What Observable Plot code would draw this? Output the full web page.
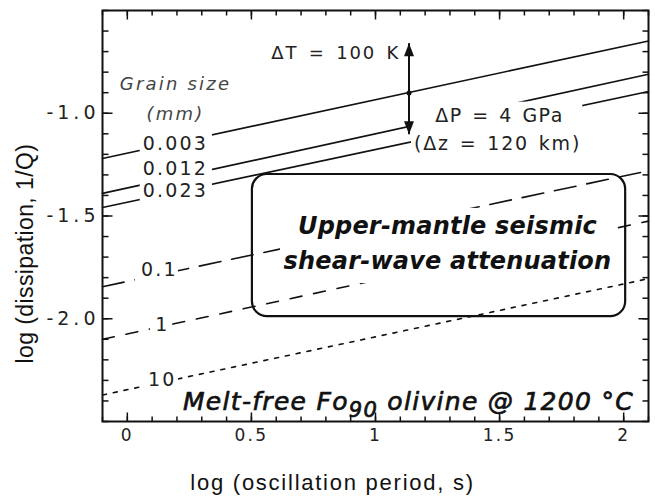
<!DOCTYPE html>
<html><head><meta charset="utf-8">
<script src="https://cdn.jsdelivr.net/npm/d3@7"></script>
<script src="https://cdn.jsdelivr.net/npm/@observablehq/plot@0.6"></script>
<style>
body{margin:0;background:#fff;}
#chart svg{display:block;}
</style></head><body><div id="chart"></div>
<script>
// Grain-size curves: log dissipation at both ends of the period axis
const grainSizes = ["0.003","0.012","0.023","0.1","1","10"];
const periodStart = -0.1, periodEnd = 2.1;
const dissAtStart = [-1.22,-1.39,-1.459,-1.844,-2.10,-2.371];
const dissAtEnd   = [-0.648,-0.81,-0.894,-1.28,-1.525,-1.805];
// Where each grain-size label sits
const labelX = [0.194,0.194,0.194,0.129,0.141,0.141];
const labelY = [-1.151,-1.273,-1.380,-1.761,-2.029,-2.298];
// tick values
const xTicks = [0,0.5,1,1.5,2];
const yTicks = [-2.0,-1.5,-1.0];
const xMinor = d3.range(-1,22).map(i=>i/10);
const yMinor = d3.range(-25,-4).map(i=>i/10);
// Arrow (ΔT / ΔP) annotation
const arrowX = [1.135];
const arrowTop = [-0.659];
const arrowBottom = [-1.102];
const arrowMid = [-0.902];
// Attenuation box
const boxX = [0.504, 2.008];
const boxY = [-1.99, -1.298];
// White backgrounds behind annotation text
const maskX1 = [0.052,0.032,0.093,0.065,1.145,0.617];
const maskX2 = [0.343,0.206,0.181,0.206,1.835,1.972];
const maskY1 = [-1.102,-1.712,-1.976,-2.249,-0.946,-1.463];
const maskY2 = [-1.429,-1.844,-2.093,-2.366,-1.21,-1.829];

const dashes = {"0.1":"22,11","1":"12,12","10":"4,7"};
const ink = "#111";
const W = 655, H = 496, mL = 102, mR = 7, mT = 10, mB = 75;
const xDom = [-0.1, 2.1], yDom = [-2.5, -0.5];
const fw = W - mL - mR, fh = H - mT - mB;
const px2x = (xDom[1]-xDom[0])/fw, px2y = (yDom[1]-yDom[0])/fh;

const lineMarks = grainSizes.map((g,i)=>Plot.line(
  [{x:periodStart,y:dissAtStart[i]},{x:periodEnd,y:dissAtEnd[i]}],
  {x:"x",y:"y",stroke:ink,strokeWidth:1.6,strokeDasharray:dashes[g]||null}));

const masks = maskX1.map((d,i)=>({x1:d,x2:maskX2[i],y1:maskY1[i],y2:maskY2[i]}));
const labels = grainSizes.map((g,i)=>({t:g,x:labelX[i],y:labelY[i]}));

const headUp = {draw(ctx){ctx.moveTo(0,0);ctx.lineTo(5,13);ctx.lineTo(-5,13);ctx.closePath();}};
const headDown = {draw(ctx){ctx.moveTo(0,0);ctx.lineTo(5,-13);ctx.lineTo(-5,-13);ctx.closePath();}};

// inward tick segments (lengths in pixels converted to data units)
const tickRows = [];
for (const [vals,len] of [[xMinor,5],[xTicks,9]]) for (const v of vals) {
  tickRows.push({x1:v,x2:v,y1:yDom[0],y2:yDom[0]+len*px2y});
  tickRows.push({x1:v,x2:v,y1:yDom[1],y2:yDom[1]-len*px2y});
}
for (const [vals,len] of [[yMinor,6],[yTicks,10]]) for (const v of vals) {
  tickRows.push({x1:xDom[0],x2:xDom[0]+len*px2x,y1:v,y2:v});
  tickRows.push({x1:xDom[1],x2:xDom[1]-len*px2x,y1:v,y2:v});
}

const captionText = "Melt-free Fo90 olivine @ 1200 \u00B0C";

const plot = Plot.plot({
  width:W, height:H,
  marginLeft:mL, marginRight:mR, marginTop:mT, marginBottom:mB,
  x:{domain:xDom, axis:null},
  y:{domain:yDom, axis:null},
  style:{fontFamily:"DejaVu Sans", color:ink, background:"white"},
  marks:[
    ...lineMarks,
    Plot.rect(masks,{x1:"x1",x2:"x2",y1:"y1",y2:"y2",fill:"white"}),
    Plot.rect([{}],{x1:boxX[0],x2:boxX[1],y1:boxY[0],y2:boxY[1],fill:"none",stroke:ink,strokeWidth:2.2,rx:15}),
    Plot.link(tickRows,{x1:"x1",x2:"x2",y1:"y1",y2:"y2",stroke:ink,strokeWidth:1.5}),
    Plot.axisX({ticks:xTicks,anchor:"bottom",tickSize:0,tickPadding:7,fontSize:17,fill:"#222",tickFormat:d=>String(d)}),
    Plot.axisY({ticks:yTicks,anchor:"left",tickSize:0,tickPadding:3,fontSize:19,fill:"#222",tickFormat:d=>d.toFixed(1)}),
    Plot.frame({stroke:ink,strokeWidth:2}),
    // axis titles
    Plot.text(["log (dissipation, 1/Q)"],{x:-0.41,y:-1.683,rotate:-90,fontFamily:"Liberation Sans",fontSize:23,fill:ink}),
    Plot.text(["log (oscillation period, s)"],{x:0.827,y:-2.80,fontFamily:"Liberation Sans",fontSize:22,fill:ink}),
    // grain labels
    Plot.text(labels,{x:"x",y:"y",text:"t",fontSize:19,fill:"#222"}),
    Plot.text(["Grain size"],{x:0.194,y:-0.859,fontSize:18,fontStyle:"italic",fill:"#444"}),
    Plot.text(["(mm)"],{x:0.194,y:-1.005,fontSize:18,fontStyle:"italic",fill:"#444"}),
    // ΔT / ΔP annotation
    Plot.text(["ΔT = 100 K"],{x:1.099,y:-0.707,textAnchor:"end",fontSize:18,fill:"#222"}),
    Plot.text(["ΔP = 4 GPa"],{x:1.5,y:-1.015,fontSize:19,fill:"#222"}),
    Plot.text(["(Δz = 120 km)"],{x:1.492,y:-1.151,fontSize:19,fill:"#222"}),
    Plot.link([0],{x1:()=>arrowX[0],x2:()=>arrowX[0],y1:()=>arrowTop[0],y2:()=>arrowBottom[0],stroke:ink,strokeWidth:2}),
    Plot.dot([0],{x:()=>arrowX[0],y:()=>arrowTop[0],symbol:headUp,fill:ink,stroke:"none"}),
    Plot.dot([0],{x:()=>arrowX[0],y:()=>arrowBottom[0],symbol:headDown,fill:ink,stroke:"none"}),
    Plot.dot([0],{x:()=>arrowX[0],y:()=>arrowMid[0],r:2.5,fill:ink,stroke:"none"}),
    // box text
    Plot.text(["Upper-mantle seismic"],{x:1.29,y:-1.551,fontSize:24,fontWeight:"bold",fontStyle:"italic",fill:ink}),
    Plot.text(["shear-wave attenuation"],{x:1.29,y:-1.722,fontSize:24,fontWeight:"bold",fontStyle:"italic",fill:ink}),
    Plot.text([captionText],{x:1.133,y:-2.405,fontSize:25,fontStyle:"italic",fill:ink,stroke:ink,strokeWidth:0.7})
  ]
});
// letter / word spacing to mimic the wide geometric face of the original
const spacing = {
  "Upper-mantle seismic":[0.2,0], "shear-wave attenuation":[0.2,0],
  "log (dissipation, 1/Q)":[0.4,0], "log (oscillation period, s)":[1.75,0],
  "Grain size":[2.2,0], "(mm)":[2.2,0],
  "ΔT = 100 K":[1.8,3], "ΔP = 4 GPa":[1.5,2], "(Δz = 120 km)":[1.8,2]
};
d3.select(plot).selectAll("text").each(function(){
  const t = this.textContent;
  let s = spacing[t];
  if (s === undefined) s = t.startsWith("Melt") ? [1.3,0] : /^-\d/.test(t) ? [4,0] : [2.2,0];
  this.style.letterSpacing = s[0] + "px";
  if (s[1]) this.style.wordSpacing = s[1] + "px";
  if (t === captionText) {
    // subscript "90" in Fo90
    const el = d3.select(this);
    el.text(null);
    el.append("tspan").text("Melt-free Fo");
    el.append("tspan").attr("dy", 7).attr("font-size", 21).text("90");
    el.append("tspan").attr("dy", -7).text(" olivine @ 1200 \u00B0C");
  }
});
document.getElementById("chart").append(plot);
</script></body></html>
